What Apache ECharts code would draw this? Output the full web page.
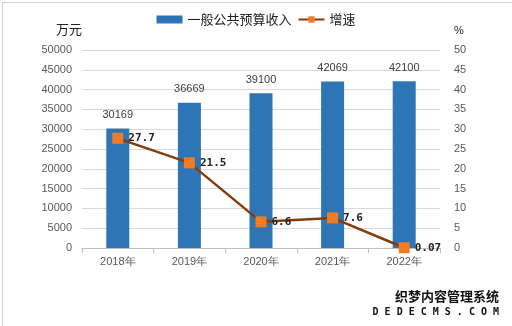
<!DOCTYPE html>
<html><head><meta charset="utf-8">
<script src="https://cdn.jsdelivr.net/npm/echarts@6/dist/echarts.min.js"></script>
<style>html,body{margin:0;padding:0;background:#fff}#c{width:512px;height:326px}</style>
</head><body><div id="c"></div>
<script>
const categories = ['2018年','2019年','2020年','2021年','2022年'];
const revenue = [30169, 36669, 39100, 42069, 42100];
const growth = [27.7, 21.5, 6.6, 7.6, 0.07];
const revenueName = '一般公共预算收入';
const growthName = '增速';

const chart = echarts.init(document.getElementById('c'));
const labelColor = '#595959';
chart.setOption({
  animation: false,
  backgroundColor: '#fff',
  legend: {
    top: 8, left: 'center', itemGap: 6,
    textStyle: {fontSize: 13, color: '#222', fontFamily: 'Noto Sans CJK SC'},
    data: [
      {name: revenueName, icon: 'rect', itemStyle: {color: '#2E75B6'}},
      {name: growthName}
    ],
    itemWidth: 26, itemHeight: 8
  },
  grid: {left: 82, right: 72, top: 50, bottom: 78},
  xAxis: {
    type: 'category', data: categories,
    axisLine: {lineStyle: {color: '#bfbfbf'}},
    axisTick: {show: true, length: 5, lineStyle: {color: '#bfbfbf'}},
    axisLabel: {color: labelColor, fontSize: 11, margin: 8, fontFamily: 'Liberation Sans'}
  },
  yAxis: [
    {
      type: 'value', min: 0, max: 50000, interval: 5000,
      name: '万元', nameLocation: 'end', nameGap: 14,
      nameTextStyle: {color: '#222', fontSize: 13, align: 'right', fontFamily: 'Noto Sans CJK SC'},
      axisLine: {show: false}, axisTick: {show: false},
      splitLine: {lineStyle: {color: '#d9d9d9'}},
      axisLabel: {color: labelColor, fontSize: 11, margin: 10, fontFamily: 'Liberation Sans', formatter: v => String(v)}
    },
    {
      type: 'value', min: 0, max: 50, interval: 5,
      name: '%', nameLocation: 'end', nameGap: 14,
      nameTextStyle: {color: '#222', fontSize: 11, align: 'left', padding: [0, 0, 0, 14]},
      axisLine: {show: false}, axisTick: {show: false},
      splitLine: {show: false},
      axisLabel: {color: labelColor, fontSize: 11, margin: 14, fontFamily: 'Liberation Sans', formatter: v => String(v)}
    }
  ],
  series: [
    {
      name: revenueName, type: 'bar', data: revenue, barWidth: 23,
      itemStyle: {color: '#2E75B6'},
      label: {show: true, position: 'top', distance: 8, color: '#404040', fontSize: 11, fontFamily: 'Liberation Sans'}
    },
    {
      name: growthName, type: 'line', yAxisIndex: 1, data: growth,
      symbol: 'rect', symbolSize: 11,
      lineStyle: {color: '#843C0C', width: 2.5},
      itemStyle: {color: '#F47B20', borderWidth: 0},
      label: {show: true, position: 'right', distance: 5, color: '#222', fontSize: 11, fontWeight: 'bold', fontFamily: 'DejaVu Sans Mono'}
    }
  ],
  graphic: [
    {type: 'rect', left: 0, top: 0, shape: {x: 0.5, y: 0.5, width: 511, height: 325}, style: {fill: 'none', stroke: '#d0d0d0', lineWidth: 1}, silent: true},
    {type: 'text', right: 12, bottom: 22, style: {text: '织梦内容管理系统', fill: '#111', fontSize: 13, fontWeight: 'bold', fontFamily: 'Noto Sans CJK SC', stroke: '#fff', lineWidth: 2}},
    {type: 'text', right: 12, bottom: 8, style: {text: 'D E D E C M S . C O M', fill: '#111', fontSize: 10, fontWeight: 'bold', fontFamily: 'DejaVu Sans Mono', stroke: '#fff', lineWidth: 2}}
  ]
});
</script></body></html>
